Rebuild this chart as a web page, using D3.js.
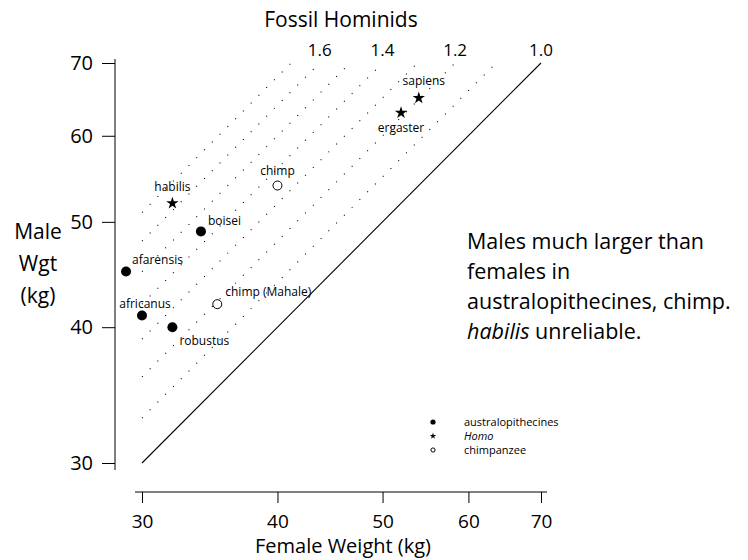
<!DOCTYPE html>
<html>
<head>
<meta charset="utf-8">
<script src="https://cdn.jsdelivr.net/npm/d3@7"></script>
<style>
  body { margin: 0; background: #fff; }
  svg { font-family: "Open Sans", sans-serif; }
</style>
</head>
<body>
<svg width="748" height="560"></svg>
<script>
// fossil hominid body weights (kg)
var species = ["afarensis", "africanus", "robustus", "boisei", "habilis", "ergaster", "sapiens", "chimp", "chimp (Mahale)"];
var femaleWt = [29, 30, 32, 34, 32, 52, 54, 40, 35.2];
var maleWt   = [45, 41, 40, 49, 52, 63, 65, 54, 42];
var group    = ["aus", "aus", "aus", "aus", "homo", "homo", "homo", "chimp", "chimp"];

var ratioLines  = [1.1, 1.2, 1.3, 1.4, 1.5, 1.6, 1.7];
var ratioLabels = [1.6, 1.4, 1.2, 1.0];
var tickVals    = [30, 40, 50, 60, 70];

var legendKeys  = ["aus", "homo", "chimp"];
var legendNames = ["australopithecines", "Homo", "chimpanzee"];

var svg = d3.select('svg');

var x = d3.scaleLog().domain([30, 70]).range([142, 541]);
var y = d3.scaleLog().domain([30, 70]).range([463, 63]);

// label placement: [dx, dy, anchor]
var place = {
    "afarensis": [6, -8, "start"],
    "africanus": [3, -8, "middle"],
    "robustus": [7, 18, "start"],
    "boisei": [7, -6, "start"],
    "habilis": [0, -12, "middle"],
    "chimp": [0, -11, "middle"],
    "chimp (Mahale)": [8, -8, "start"],
    "sapiens": [5, -13, "middle"],
    "ergaster": [0, 19, "middle"]
};

function drawMark(sel, g, r) {
    if (g == "aus") {
        sel.append('circle').attr('r', r).attr('fill', '#000');
    } else if (g == "chimp") {
        sel.append('circle').attr('r', r - 0.5).attr('fill', 'none')
            .attr('stroke', '#000').attr('stroke-width', 1);
    } else {
        sel.append('path').attr('d', d3.symbol(d3.symbolStar, r * r * 1.9)()).attr('fill', '#000');
    }
}

// title
svg.append('text').attr('x', 341).attr('y', 27).attr('text-anchor', 'middle')
    .style('font-size', '21px').text('Fossil Hominids');

// axes
var xAxis = svg.append('g').attr('transform', 'translate(0,492)')
    .call(d3.axisBottom(x).tickValues(tickVals).tickFormat(d3.format('d')).tickSize(11).tickSizeOuter(0));
xAxis.select('.domain').attr('d', 'M135,0H547');
xAxis.selectAll('text').style('font-size', '19px').style('font-family', '"Open Sans"')
    .attr('y', 14).attr('dy', '1.15em');

var yAxis = svg.append('g').attr('transform', 'translate(115,0)')
    .call(d3.axisLeft(y).tickValues(tickVals).tickFormat(d3.format('d')).tickSize(13).tickSizeOuter(0));
yAxis.select('.domain').attr('d', 'M0,59V470');
yAxis.selectAll('text').style('font-size', '20px').style('font-family', '"Open Sans"').attr('x', -22);

svg.selectAll('.domain, .tick line').attr('stroke', '#000');

// axis titles
svg.append('text').attr('x', 343).attr('y', 553).attr('text-anchor', 'middle')
    .style('font-size', '20px').text('Female Weight (kg)');
var yl = svg.append('text').attr('x', 38).attr('text-anchor', 'middle').style('font-size', '21px');
["Male", "Wgt", "(kg)"].forEach(function(t, i) {
    yl.append('tspan').attr('x', 38).attr('y', 239 + i * 32).text(t);
});

// equal weight line
svg.append('line')
    .attr('x1', x(30)).attr('y1', y(30))
    .attr('x2', x(70)).attr('y2', y(70))
    .attr('stroke', '#000').attr('stroke-width', 1.1);

// dotted ratio lines
svg.selectAll('line.ratio').data(ratioLines).enter().append('line')
    .attr('class', 'ratio')
    .attr('x1', x(30)).attr('y1', function(r) { return y(30 * r); })
    .attr('x2', function(r) { return x(70 / r); }).attr('y2', y(70))
    .attr('stroke', '#000').attr('stroke-width', 1.1)
    .attr('stroke-dasharray', '1,10');

svg.selectAll('text.rlab').data(ratioLabels).enter().append('text')
    .attr('class', 'rlab')
    .attr('x', function(r) { return x(70 / r); }).attr('y', 56)
    .attr('text-anchor', 'middle').style('font-size', '17px')
    .text(function(r) { return r.toFixed(1); });

// points
species.forEach(function(s, i) {
    var g = svg.append('g').attr('transform', 'translate(' + x(femaleWt[i]) + ',' + y(maleWt[i]) + ')');
    drawMark(g, group[i], 5);
    var p = place[s];
    svg.append('text')
        .attr('x', x(femaleWt[i]) + p[0]).attr('y', y(maleWt[i]) + p[1])
        .attr('text-anchor', p[2]).style('font-size', '12px')
        .text(s);
});

// legend
legendKeys.forEach(function(k, i) {
    var g = svg.append('g').attr('transform', 'translate(433,' + (422 + i * 14) + ')');
    drawMark(g, k, 2.6);
    svg.append('text').attr('x', 464).attr('y', 426 + i * 14)
        .style('font-size', '11px').style('font-style', k == "homo" ? 'italic' : 'normal')
        .text(legendNames[i]);
});

// annotation
var note = svg.append('text').style('font-size', '21.5px');
note.append('tspan').attr('x', 467).attr('y', 249).text('Males much larger than');
note.append('tspan').attr('x', 467).attr('y', 279).text('females in');
note.append('tspan').attr('x', 467).attr('y', 309).text('australopithecines, chimp.');
var l4 = note.append('tspan').attr('x', 467).attr('y', 339);
l4.append('tspan').style('font-style', 'italic').text('habilis');
l4.append('tspan').text(' unreliable.');
</script>
</body>
</html>
